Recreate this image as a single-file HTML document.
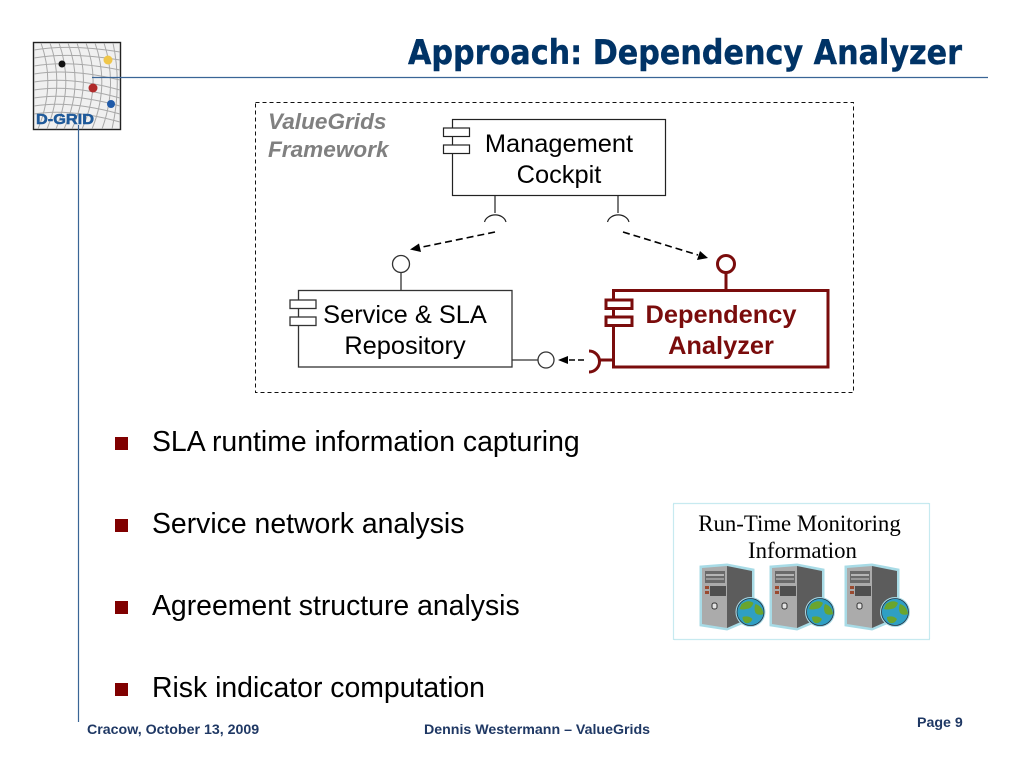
<!DOCTYPE html>
<html><head><meta charset="utf-8"><style>
html,body{margin:0;padding:0;background:#fff;width:1024px;height:768px;overflow:hidden}
svg{display:block}
.a{font-family:"Liberation Sans",sans-serif}
</style></head><body>
<svg width="1024" height="768" viewBox="0 0 1024 768" xmlns="http://www.w3.org/2000/svg">
<defs>
<g id="srv">
 <path d="M0 1 L26 -1 L52 4 L52 52 L26 63 L0 59 Z" fill="#a8dbe6" stroke="#a8dbe6" stroke-width="3"/>
 <path d="M26 0 L51 5 L51 51 L26 62 Z" fill="#5c5c5c"/>
 <path d="M1 2 L26 0 L26 62 L1 58 Z" fill="#ababab"/>
 <rect x="4" y="5" width="20" height="12" fill="#6a6a6a"/>
 <rect x="5" y="8" width="18" height="2" fill="#b5b5b5"/>
 <rect x="5" y="12" width="18" height="2" fill="#999"/>
 <rect x="9" y="20" width="16" height="10" fill="#4f4f4f"/>
 <rect x="4" y="20" width="4" height="3" fill="#9a4a30"/>
 <rect x="4" y="25" width="4" height="3" fill="#9a4a30"/>
 <rect x="11" y="37" width="5" height="6" rx="2" fill="#e2e2e2" stroke="#333"/>
</g>
<g id="globe">
 <circle cx="0" cy="0" r="15" fill="#a8dbe6"/>
 <circle cx="0" cy="0" r="13.5" fill="#2f9fc4" stroke="#234" stroke-width="0.8"/>
 <path d="M-9 -8 Q-2 -13 3 -9 Q1 -3 -4 -3 Q-8 -2 -11 -3 Z M5 -8 Q12 -6 13 2 Q8 4 5 1 Q3 -4 5 -8 Z M-8 5 Q-2 3 2 7 Q0 12 -5 11 Q-8 9 -8 5 Z" fill="#6aa52e"/>
</g>
</defs>

<!-- logo -->
<rect x="33.5" y="42.5" width="87" height="87" fill="#f0f0f0" stroke="#222" stroke-width="1.4"/>
<g fill="none" stroke="#a8a8a8" stroke-width="1">
 <path d="M34 50 Q70 44 120 52 M34 58 Q70 52 120 60 M34 66 Q70 60 120 70 M34 74 Q70 68 120 80 M34 82 Q70 76 120 90 M34 90 Q70 84 120 98 M34 98 Q70 92 120 106 M34 106 Q70 100 120 114 M34 114 Q70 108 120 122"/>
 <path d="M41 43 Q56 85 38 129 M50 43 Q65 85 47 129 M59 43 Q74 85 56 129 M68 43 Q84 85 64 129 M77 43 Q92 85 72 129 M86 43 Q102 85 82 129 M95 43 Q110 85 92 129 M104 43 Q118 85 102 129 M113 43 Q122 85 112 129"/>
</g>
<circle cx="62" cy="64" r="3.5" fill="#111"/>
<circle cx="108" cy="60" r="4.5" fill="#efc64a"/>
<circle cx="93" cy="88" r="4.5" fill="#b02a2a"/>
<circle cx="111" cy="104" r="4" fill="#1f5aa8"/>
<text x="36" y="124" class="a" font-size="15" font-weight="bold" fill="#1f5a9a" stroke="#1f5a9a" stroke-width="0.5" textLength="58" lengthAdjust="spacingAndGlyphs">D-GRID</text>

<!-- rules -->
<line x1="92" y1="77.5" x2="988" y2="77.5" stroke="#3a6596" stroke-width="1.2"/>
<line x1="78.5" y1="125" x2="78.5" y2="722" stroke="#3a6596" stroke-width="1.2"/>

<!-- title -->
<text x="408" y="64" font-family="'DejaVu Sans',sans-serif" font-weight="bold" font-size="34" fill="#003366" stroke="#003366" stroke-width="0.4" textLength="554" lengthAdjust="spacingAndGlyphs">Approach: Dependency Analyzer</text>

<!-- framework -->
<rect x="255.5" y="102.5" width="598" height="290" fill="#fff" stroke="#111" stroke-width="1" stroke-dasharray="4 3"/>
<text class="a" x="268" y="129" font-size="22.6" font-weight="bold" font-style="italic" fill="#808080">ValueGrids</text>
<text class="a" x="268" y="157" font-size="22.6" font-weight="bold" font-style="italic" fill="#808080">Framework</text>

<!-- Management Cockpit -->
<g fill="#fff" stroke="#222" stroke-width="1.2">
 <rect x="452.5" y="119.5" width="213" height="76"/>
 <rect x="443.5" y="128" width="26" height="8.5"/>
 <rect x="443.5" y="145" width="26" height="8.5"/>
</g>
<g class="a" font-size="25.4" fill="#000" text-anchor="middle">
 <text x="559" y="152">Management</text>
 <text x="559" y="183">Cockpit</text>
</g>
<g fill="none" stroke="#222" stroke-width="1.2">
 <line x1="495" y1="196" x2="495" y2="213"/>
 <path d="M484.5 222 A11 9 0 0 1 506 222"/>
 <line x1="618" y1="196" x2="618" y2="213"/>
 <path d="M607.5 222 A11 9 0 0 1 629 222"/>
</g>

<!-- arrows -->
<line x1="495" y1="232" x2="420" y2="247.5" stroke="#000" stroke-width="1.6" stroke-dasharray="7 4"/>
<path d="M410 249.5 L419 243.5 L421 252 Z" fill="#000"/>
<line x1="623" y1="232" x2="698" y2="255" stroke="#000" stroke-width="1.6" stroke-dasharray="7 4"/>
<path d="M708 258 L697 260 L700 251 Z" fill="#000"/>

<!-- Service & SLA -->
<g fill="#fff" stroke="#333" stroke-width="1.3">
 <rect x="298.5" y="290.5" width="213.5" height="76.5"/>
 <rect x="290" y="300" width="26" height="8.5"/>
 <rect x="290" y="317" width="26" height="8.5"/>
 <line x1="401" y1="272.5" x2="401" y2="290"/>
 <circle cx="401" cy="264" r="8.5"/>
 <line x1="512" y1="360" x2="538" y2="360"/>
 <circle cx="546" cy="360" r="8"/>
</g>
<g class="a" font-size="25.4" fill="#000" text-anchor="middle">
 <text x="405" y="323">Service &amp; SLA</text>
 <text x="405" y="354">Repository</text>
</g>

<!-- Dependency Analyzer -->
<g fill="#fff" stroke="#7a0c0c" stroke-width="3">
 <rect x="613.5" y="290.5" width="214.5" height="76.5"/>
 <rect x="606" y="300" width="26" height="8.5"/>
 <rect x="606" y="317" width="26" height="8.5"/>
 <line x1="726" y1="273" x2="726" y2="290"/>
 <circle cx="726" cy="264" r="8.5"/>
 <line x1="613" y1="360" x2="598" y2="360"/>
 <path d="M589 351 A10.5 10.5 0 0 1 589 372" fill="none"/>
</g>
<g class="a" font-size="25.4" font-weight="bold" fill="#7a0c0c" text-anchor="middle">
 <text x="721" y="323">Dependency</text>
 <text x="721" y="354">Analyzer</text>
</g>
<line x1="584" y1="360" x2="568" y2="360" stroke="#000" stroke-width="1.6" stroke-dasharray="6 3"/>
<path d="M558 360 L568 356 L568 364 Z" fill="#000"/>

<!-- bullets -->
<g fill="#800000">
 <rect x="115" y="437" width="13" height="13"/>
 <rect x="115" y="519" width="13" height="13"/>
 <rect x="115" y="601" width="13" height="13"/>
 <rect x="115" y="683" width="13" height="13"/>
</g>
<g class="a" font-size="28.4" fill="#000">
 <text x="152" y="451">SLA runtime information capturing</text>
 <text x="152" y="533">Service network analysis</text>
 <text x="152" y="615">Agreement structure analysis</text>
 <text x="152" y="697">Risk indicator computation</text>
</g>

<!-- monitoring box -->
<rect x="673.5" y="503.5" width="256" height="136" fill="#fff" stroke="#8fd6e0" stroke-width="1.2" stroke-dasharray="1 1"/>
<g font-family="'Liberation Serif',serif" font-size="22.8" fill="#000" text-anchor="middle">
 <text x="799.5" y="531">Run-Time Monitoring</text>
 <text x="802.5" y="558">Information</text>
</g>
<use href="#srv" x="701" y="566"/>
<use href="#globe" x="750.5" y="612"/>
<use href="#srv" x="771" y="566"/>
<use href="#globe" x="820" y="612"/>
<use href="#srv" x="846" y="566"/>
<use href="#globe" x="895" y="612"/>

<!-- footer -->
<g class="a" font-size="14.2" font-weight="bold" fill="#1f3864">
 <text x="87" y="734">Cracow, October 13, 2009</text>
 <text x="424" y="734">Dennis Westermann – ValueGrids</text>
 <text x="917" y="727">Page 9</text>
</g>
</svg>
</body></html>
